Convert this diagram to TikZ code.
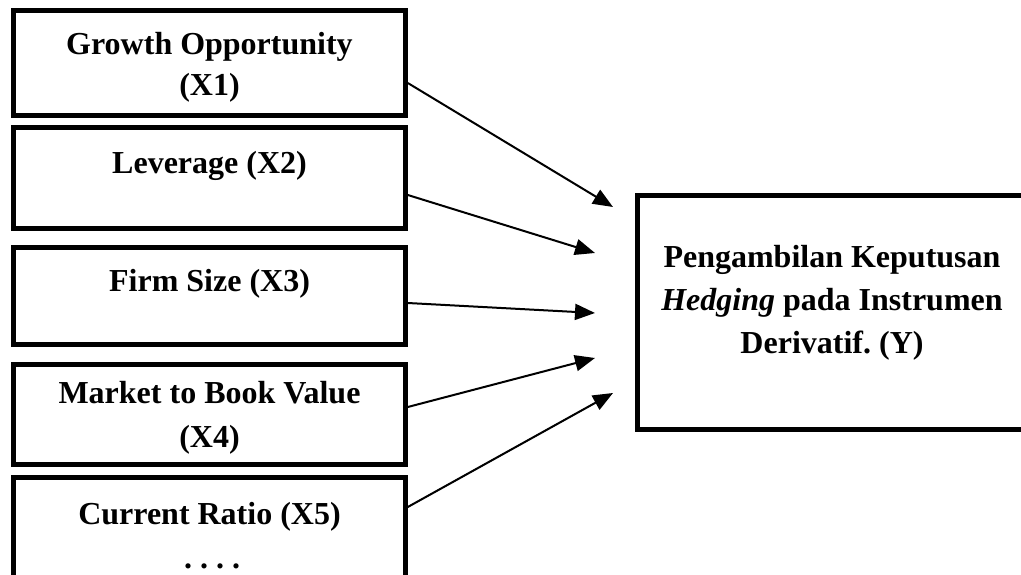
\documentclass[tikz,border=0pt]{standalone}
\usepackage{fontspec}
\setmainfont{Liberation Serif}
\usetikzlibrary{arrows.meta}
\frenchspacing
\begin{document}
\begin{tikzpicture}[x=1pt,y=-1pt,
  box/.style={draw=black,line width=4.6pt,fill=white,inner sep=0pt,rectangle},
  lbl/.style={inner sep=0pt,anchor=base,font=\fontsize{32}{43}\selectfont\bfseries},
  arr/.style={line width=2pt,-{Triangle[length=20pt,width=16pt]}}]
\useasboundingbox (0,0) rectangle (1021,575);
\clip (0,0) rectangle (1021,575);
% left boxes
\node[box,minimum width=392pt,minimum height=105pt] (b1) at (209.5,63) {};
\node[box,minimum width=392pt,minimum height=101pt] (b2) at (209.5,178) {};
\node[box,minimum width=392pt,minimum height=97pt] (b3) at (209.5,296) {};
\node[box,minimum width=392pt,minimum height=100pt] (b4) at (209.5,414.5) {};
\node[box,minimum width=392pt,minimum height=160pt] (b5) at (209.5,557.5) {};
% right box
\node[box,minimum width=392.5pt,minimum height=234pt] (y) at (833.75,312.5) {};
% texts
\node[lbl] (t1a) at (209.5,55) {Growth Opportunity};
\node[lbl] (t1b) at (209.5,96) {(X1)};
\node[lbl] (t2) at (209.5,174) {Leverage (X2)};
\node[lbl] (t3) at (209.5,291) {Firm Size (X3)};
\node[lbl] (t4a) at (209.5,403) {Market to Book Value};
\node[lbl] (t4b) at (209.5,447) {(X4)};
\node[lbl] (t5) at (209.5,524) {Current Ratio (X5)};
\node[lbl] (t5b) at (212,568) {. . . .};
\node[lbl] (ya) at (832,267) {Pengambilan Keputusan};
\node[lbl] (yb) at (832,310) {\textit{Hedging} pada Instrumen};
\node[lbl] (yc) at (832,353) {Derivatif. (Y)};
% arrow tips
\coordinate (e1) at (613,207);
\coordinate (e2) at (595,253);
\coordinate (e3) at (595,313);
\coordinate (e4) at (595,358);
\coordinate (e5) at (613,393);
\draw[arr] ([yshift=-20pt]b1.east) -- (e1);
\draw[arr] ([yshift=-17pt]b2.east) -- (e2);
\draw[arr] ([yshift=-7pt]b3.east) -- (e3);
\draw[arr] ([yshift=7.5pt]b4.east) -- (e4);
\draw[arr] ([yshift=50.5pt]b5.east) -- (e5);
\end{tikzpicture}
\end{document}
